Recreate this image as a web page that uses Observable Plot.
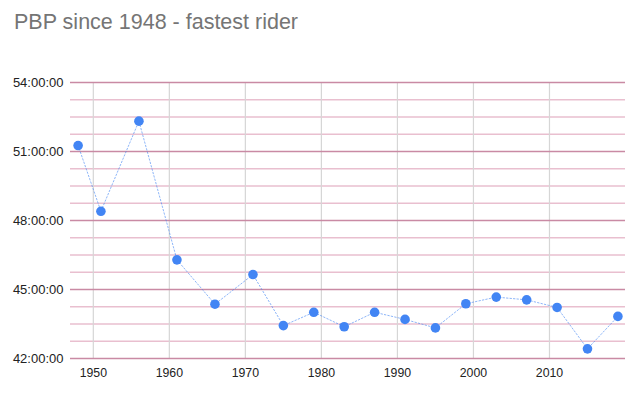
<!DOCTYPE html>
<html><head><meta charset="utf-8">
<script src="https://cdn.jsdelivr.net/npm/d3@7"></script>
<script src="https://cdn.jsdelivr.net/npm/@observablehq/plot@0.6"></script>
<style>
body{margin:0;background:#fff;font-family:"Liberation Sans",Arial,sans-serif}
#wrap{position:relative;width:639px;height:395px}
#title{position:absolute;left:14px;top:12px;font-size:21.5px;line-height:1;color:#757575;white-space:nowrap}
#wrap svg{position:absolute;left:0;top:0}
</style></head><body>
<div id="wrap"><div id="title">PBP since 1948 - fastest rider</div></div>
<script>
const years = [1948, 1951, 1956, 1961, 1966, 1971, 1975, 1979, 1983, 1987, 1991, 1995, 1999, 2003, 2007, 2011, 2015, 2019];
const hours = [51.26, 48.40, 52.32, 46.29, 44.36, 45.65, 43.43, 44.01, 43.38, 44.01, 43.70, 43.33, 44.38, 44.67, 44.55, 44.22, 42.42, 43.83];
const yTicks = [42, 45, 48, 51, 54];
const xTicks = [1950, 1960, 1970, 1980, 1990, 2000, 2010];

const data = years.map((y, i) => ({year: y, hours: hours[i]}));
const minorTicks = d3.range(42, 54.01, 0.75).filter(v => !yTicks.includes(v));
const fmt = h => {
  const total = Math.round(h * 3600);
  const hh = Math.floor(total / 3600), mm = Math.floor((total % 3600) / 60), ss = total % 60;
  return `${hh}:${String(mm).padStart(2, "0")}:${String(ss).padStart(2, "0")}`;
};

const chart = Plot.plot({
  width: 639,
  height: 395,
  marginLeft: 70,
  marginRight: 14,
  marginTop: 82,
  marginBottom: 37,
  style: {fontFamily: "'Liberation Sans', Arial, sans-serif", color: "#222", background: "transparent"},
  x: {domain: [1947, 2020]},
  y: {domain: [42, 54]},
  marks: [
    Plot.ruleY(minorTicks, {stroke: "#e9bfcf", strokeWidth: 1.3}),
    Plot.ruleX(xTicks, {stroke: "#d6d6d6", strokeWidth: 1.2}),
    Plot.ruleY(yTicks, {stroke: "#c98aa4", strokeWidth: 1.5}),
    Plot.axisY({ticks: yTicks, tickSize: 0, tickPadding: 7, tickFormat: fmt, fontSize: 13, label: null}),
    Plot.axisX({ticks: xTicks, tickSize: 0, tickPadding: 10, tickFormat: d => String(d), fontSize: 12.3, label: null}),
    Plot.line(data, {x: "year", y: "hours", stroke: "#4285f4", strokeOpacity: 0.6, strokeWidth: 1, strokeDasharray: "1.5,2"}),
    Plot.dot(data, {x: "year", y: "hours", r: 4.8, fill: "#4285f4", stroke: "none"})
  ]
});
document.getElementById("wrap").appendChild(chart);
</script>
</body></html>
